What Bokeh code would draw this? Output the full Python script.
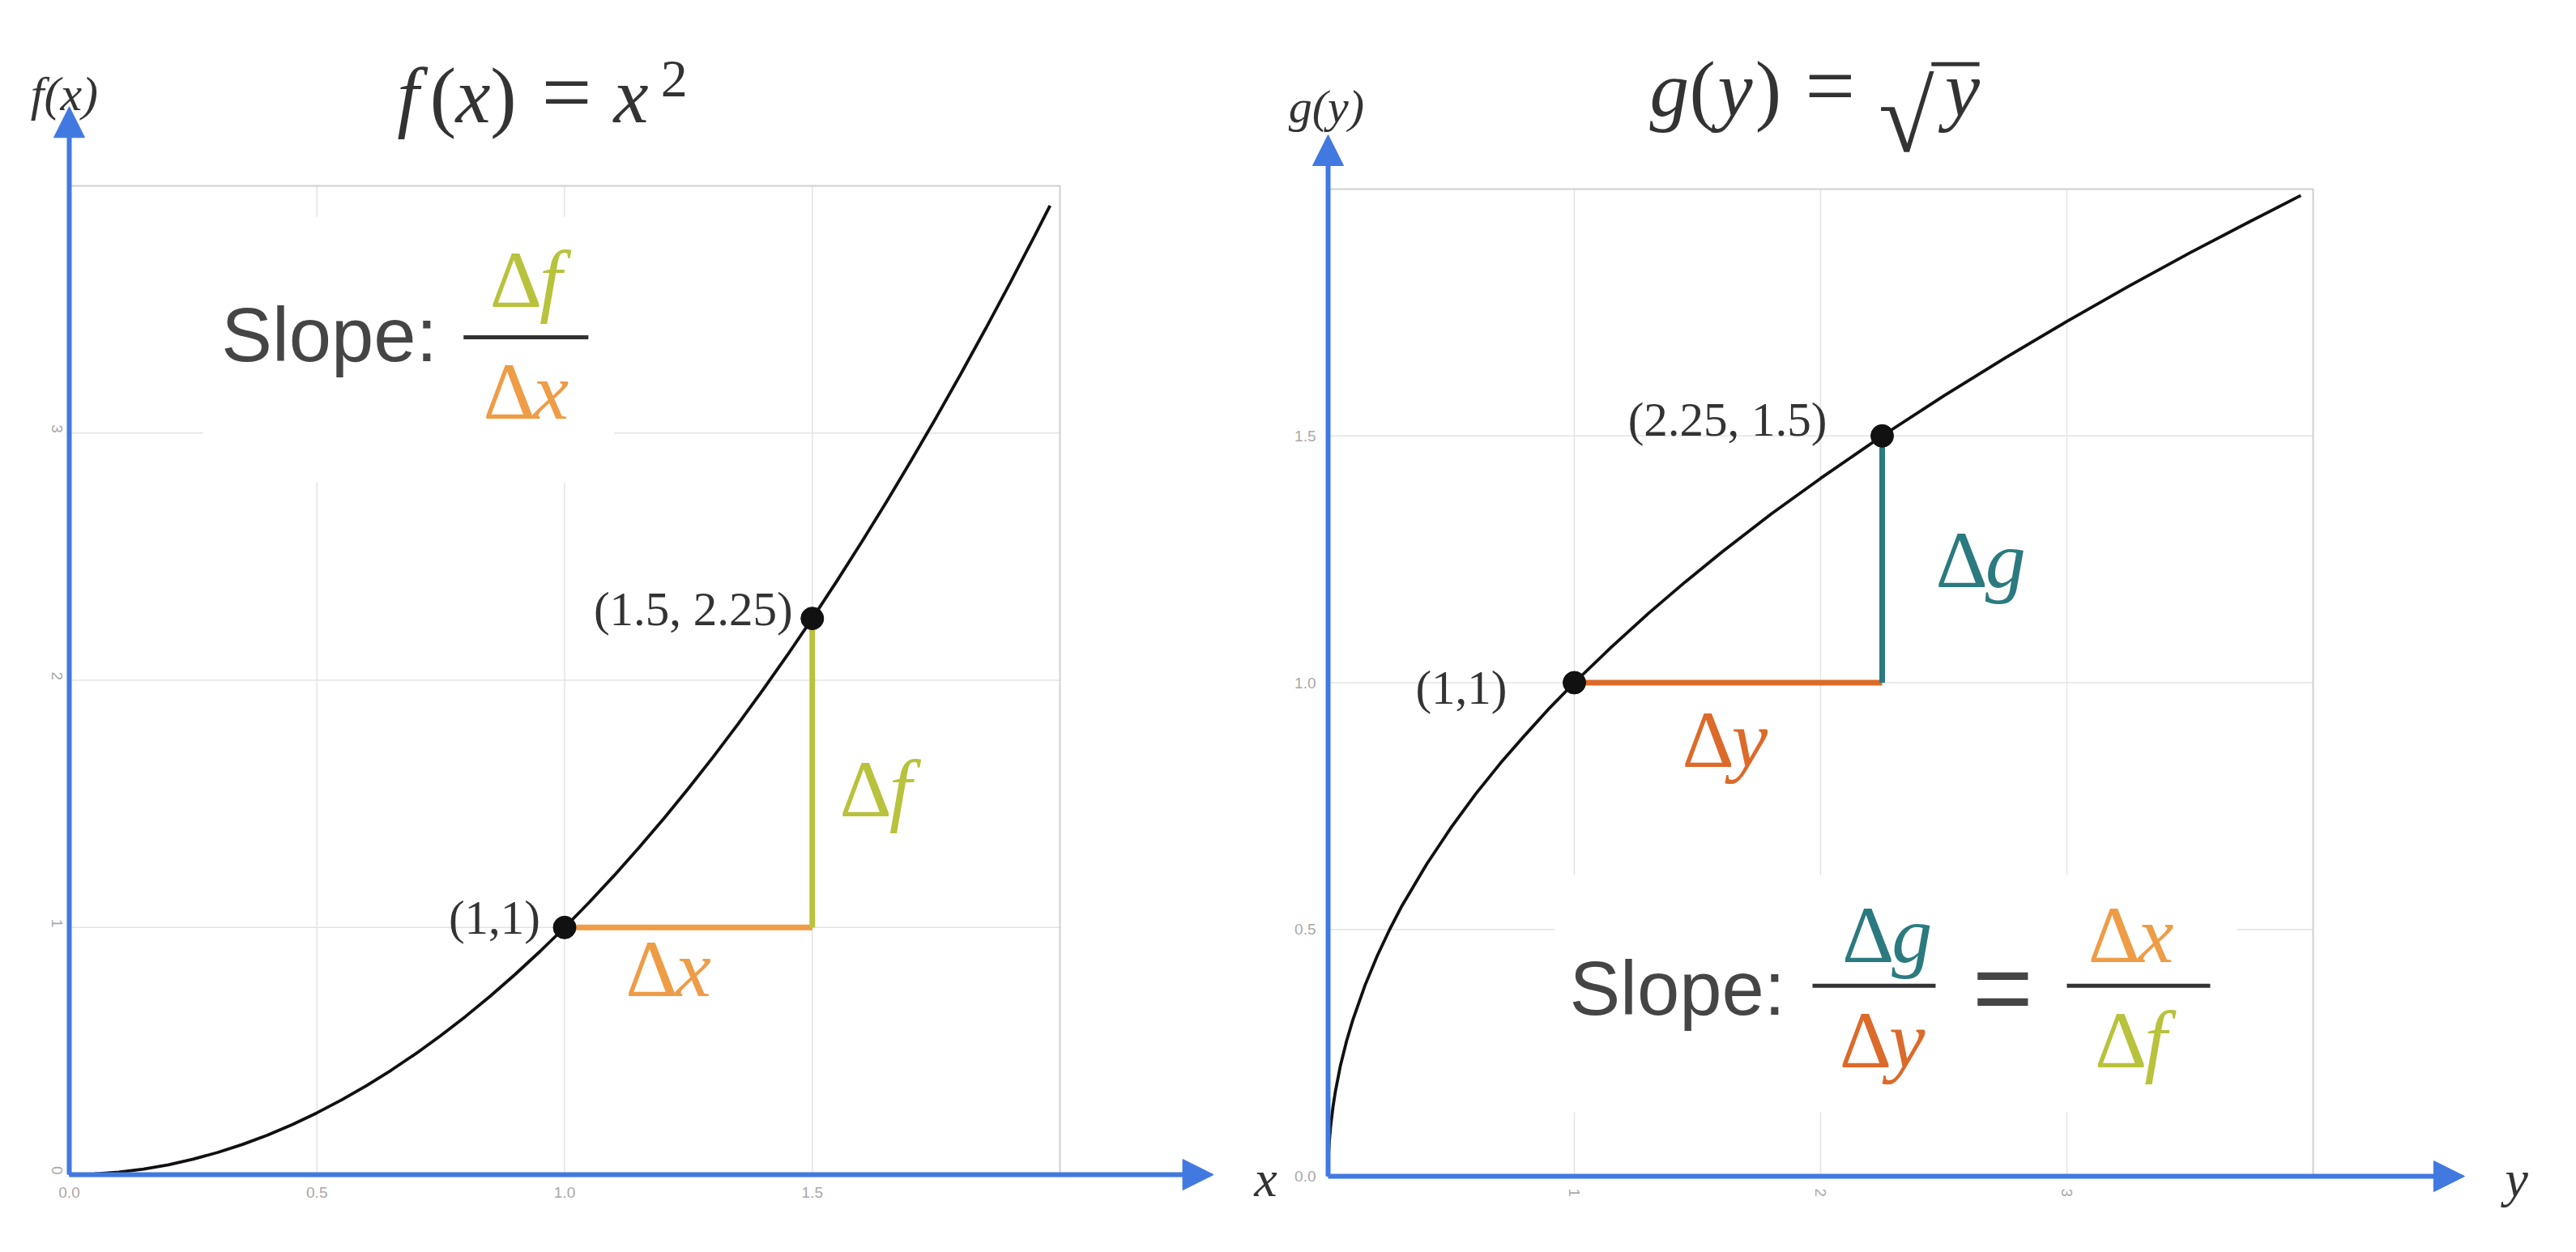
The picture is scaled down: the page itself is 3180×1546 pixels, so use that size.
import math
from bokeh.plotting import figure
from bokeh.layouts import row
from bokeh.models import Label, Arrow, NormalHead, FixedTicker, PrintfTickFormatter
from bokeh.embed import file_html
from bokeh.resources import INLINE

# ---------------- data ----------------
f_curve_x = [0.0, 0.05, 0.1, 0.15, 0.2, 0.25, 0.3, 0.35, 0.4, 0.45, 0.5, 0.55, 0.6,
             0.65, 0.7, 0.75, 0.8, 0.85, 0.9, 0.95, 1.0, 1.05, 1.1, 1.15, 1.2, 1.25,
             1.3, 1.35, 1.4, 1.45, 1.5, 1.55, 1.6, 1.65, 1.7, 1.75, 1.8, 1.85, 1.9,
             1.95, 1.98]
f_curve_y = [0.0, 0.0025, 0.01, 0.0225, 0.04, 0.0625, 0.09, 0.1225, 0.16, 0.2025,
             0.25, 0.3025, 0.36, 0.4225, 0.49, 0.5625, 0.64, 0.7225, 0.81, 0.9025,
             1.0, 1.1025, 1.21, 1.3225, 1.44, 1.5625, 1.69, 1.8225, 1.96, 2.1025,
             2.25, 2.4025, 2.56, 2.7225, 2.89, 3.0625, 3.24, 3.4225, 3.61, 3.8025,
             3.9204]
f_pts_x = [1.0, 1.5]
f_pts_y = [1.0, 2.25]
f_pt_labels = ["(1,1)", "(1.5, 2.25)"]
f_xticks = [0, 0.5, 1, 1.5]
f_yticks = [0, 1, 2, 3]
f_xmax, f_ymax = 2.0, 4.0

g_curve_x = [0.0, 0.001, 0.003, 0.006, 0.01, 0.02, 0.03, 0.05, 0.075, 0.1, 0.15, 0.2,
             0.25, 0.3, 0.4, 0.5, 0.6, 0.7, 0.8, 0.9, 1.0, 1.15, 1.3, 1.45, 1.6, 1.8,
             2.0, 2.25, 2.5, 2.75, 3.0, 3.25, 3.5, 3.75, 3.95]
g_curve_y = [0.0, 0.032, 0.055, 0.077, 0.1, 0.141, 0.173, 0.224, 0.274, 0.316, 0.387,
             0.447, 0.5, 0.548, 0.632, 0.707, 0.775, 0.837, 0.894, 0.949, 1.0, 1.072,
             1.14, 1.204, 1.265, 1.342, 1.414, 1.5, 1.581, 1.658, 1.732, 1.803, 1.871,
             1.936, 1.987]
g_pts_x = [1.0, 2.25]
g_pts_y = [1.0, 1.5]
g_pt_labels = ["(1,1)", "(2.25, 1.5)"]
g_xticks = [1, 2, 3]
g_yticks = [0, 0.5, 1, 1.5]
g_xmax, g_ymax = 4.0, 2.0

# ---------------- styles ----------------
BLUE = "#4179E0"
INK = "#333333"
SLOPE_INK = "#454545"
ORANGE = "#EE9C46"
LIME = "#B8C23C"
RUST = "#DC6A2A"
TEAL = "#2B7A80"
SERIF = "Liberation Serif"
SANS = "Liberation Sans"
LW = {"f": 0.278, "x": 0.444, "g": 0.5, "y": 0.444}
FIG_W, FIG_H = 1582, 1530
DSIZE = 100


class Panel:
    def __init__(self, x0px, y0px, ppx, ppy, xticks, yticks, xmax, ymax):
        # x0px / y0px: position of the data origin inside the figure (px)
        self.ppx, self.ppy = ppx, ppy
        xr = (-x0px / ppx, (FIG_W - x0px) / ppx)
        yr = (-(FIG_H - y0px) / ppy, y0px / ppy)
        p = figure(x_range=xr, y_range=yr, frame_width=FIG_W, frame_height=FIG_H,
                   min_border=0, output_backend="svg", toolbar_location=None,
                   tools="")
        p.outline_line_color = None
        p.background_fill_color = "white"
        p.border_fill_color = "white"
        p.grid.visible = False
        p.xaxis.ticker = FixedTicker(ticks=xticks)
        p.yaxis.ticker = FixedTicker(ticks=yticks)
        p.xaxis.fixed_location = 0
        p.yaxis.fixed_location = 0
        for ax in (p.xaxis[0], p.yaxis[0]):
            ax.axis_line_color = None
            ax.major_tick_line_color = None
            ax.minor_tick_line_color = None
            ax.major_label_text_font = SANS
            ax.major_label_text_font_size = "19px"
            ax.major_label_text_color = "#a8a8a8"
            ax.major_label_standoff = 9
        # grid lines from the ticks, limited to the plotting box
        gx = [t for t in xticks if t > 0]
        gy = [t for t in yticks if t > 0]
        p.segment(x0=gx, y0=[0] * len(gx), x1=gx, y1=[ymax] * len(gx),
                  line_color="#e4e4e4", line_width=1.5)
        p.segment(x0=[0] * len(gy), y0=gy, x1=[xmax] * len(gy), y1=gy,
                  line_color="#e4e4e4", line_width=1.5)
        p.quad(left=[0], right=[xmax], bottom=[0], top=[ymax], fill_color=None,
               line_color="#d0d0d0", line_width=2)
        self.p = p

    def lab(self, x, y, text, size, color=INK, font=SERIF, style="normal",
            align="left", baseline="alphabetic"):
        if baseline == "alphabetic":
            y = y + 0.33 * size / self.ppy
        self.p.add_layout(Label(x=x, y=y, text=text, text_font=font,
                                text_font_size=f"{size}px", text_font_style=style,
                                text_color=color, text_align=align,
                                text_baseline=baseline))

    def delta(self, x, y, letter, color, size=DSIZE, center=False):
        dw = 0.613 * size / self.ppx
        lw = LW[letter] * size / self.ppx
        if center:
            x = x - (dw + lw) / 2
        self.lab(x, y, "Δ", size, color)
        self.lab(x + dw, y, letter, size, color, style="italic")

    def axis_arrow(self, x1, y1):
        self.p.add_layout(Arrow(end=NormalHead(size=38, fill_color=BLUE,
                                               line_color=BLUE),
                                x_start=0, y_start=0, x_end=x1, y_end=y1,
                                line_color=BLUE, line_width=6))


# ================= left panel: f(x) = x^2 =================
L = Panel(85, 1450, 611.5, 305.25, f_xticks, f_yticks, f_xmax, f_ymax)
pf = L.p
pf.xaxis.formatter = PrintfTickFormatter(format="%.1f")
pf.yaxis.major_label_orientation = -math.pi / 2
fx, fy = L.ppx, L.ppy

pf.quad(left=0.27, right=1.10, bottom=2.80, top=3.875, fill_color="white",
        line_color=None)
L.lab(0.307, 3.296, "Slope:", 94, SLOPE_INK, font=SANS)
pf.segment(x0=0.796, y0=3.387, x1=1.048, y1=3.387, line_color=INK, line_width=5)
L.delta(0.922, 3.387 + 38 / fy, "f", LIME, center=True)
L.delta(0.922, 3.387 - 100 / fy, "x", ORANGE, center=True)

pf.line(f_curve_x, f_curve_y, line_color="#111111", line_width=3.8)
pf.segment(x0=[f_pts_x[0]], y0=[f_pts_y[0]], x1=[f_pts_x[1]], y1=[f_pts_y[0]],
           line_color=ORANGE, line_width=7)
pf.segment(x0=[f_pts_x[1]], y0=[f_pts_y[0]], x1=[f_pts_x[1]], y1=[f_pts_y[1]],
           line_color=LIME, line_width=7)
pf.scatter(f_pts_x, f_pts_y, size=28, color="#111111")

L.lab(f_pts_x[0] - 30 / fx, f_pts_y[0] + 12 / fy, f_pt_labels[0], 59,
      align="right", baseline="middle")
L.lab(f_pts_x[1] - 24 / fx, f_pts_y[1] + 12 / fy, f_pt_labels[1], 59,
      align="right", baseline="middle")
L.delta(1.555, 1.45, "f", LIME)
L.delta(1.123, 0.725, "x", ORANGE)

tb = 4.259
L.lab(0.662, tb, "f", 97, style="italic")
L.lab(0.728, tb, "(", 97)
L.lab(0.780, tb, "x", 97, style="italic")
L.lab(0.850, tb, ")", 97)
L.lab(1.004, tb, "=", 110, align="center")
L.lab(1.099, tb, "x", 97, style="italic")
L.lab(1.194, 4.361, "2", 66)

L.axis_arrow(0, 4.32)
L.axis_arrow(2.31, 0)
L.lab(-0.01, 4.308, "f(x)", 60, style="italic", align="center")
L.lab(2.392, -0.085, "x", 64, style="italic")

# ================= right panel: g(y) = sqrt(y) =================
R = Panel(57, 1452, 304.0, 609.5, g_xticks, g_yticks, g_xmax, g_ymax)
pg = R.p
pg.yaxis.formatter = PrintfTickFormatter(format="%.1f")
pg.xaxis.major_label_orientation = -math.pi / 2
gx, gy = R.ppx, R.ppy

pg.quad(left=0.92, right=3.69, bottom=0.13, top=0.61, fill_color="white",
        line_color=None)
R.lab(0.98, 0.330, "Slope:", 94, SLOPE_INK, font=SANS)
bar_y = 0.386
pg.segment(x0=1.967, y0=bar_y, x1=2.467, y1=bar_y, line_color=INK, line_width=5)
R.delta(2.27, bar_y + 30 / gy, "g", TEAL, center=True)
R.delta(2.25, bar_y - 100 / gy, "y", RUST, center=True)
R.lab(2.74, bar_y - 0.345 * 128 / gy, "=", 128, SLOPE_INK, font=SANS,
      align="center")
pg.segment(x0=3.0, y0=bar_y, x1=3.582, y1=bar_y, line_color=INK, line_width=5)
R.delta(3.26, bar_y + 30 / gy, "x", ORANGE, center=True)
R.delta(3.26, bar_y - 100 / gy, "f", LIME, center=True)

pg.line(g_curve_x, g_curve_y, line_color="#111111", line_width=3.8)
pg.segment(x0=[g_pts_x[0]], y0=[g_pts_y[0]], x1=[g_pts_x[1]], y1=[g_pts_y[0]],
           line_color=RUST, line_width=7)
pg.segment(x0=[g_pts_x[1]], y0=[g_pts_y[0]], x1=[g_pts_x[1]], y1=[g_pts_y[1]],
           line_color=TEAL, line_width=7)
pg.scatter(g_pts_x, g_pts_y, size=28, color="#111111")

R.lab(g_pts_x[0] - 83 / gx, g_pts_y[0] - 6 / gy, g_pt_labels[0], 59,
      align="right", baseline="middle")
R.lab(g_pts_x[1] - 68 / gx, g_pts_y[1] + 20 / gy, g_pt_labels[1], 59,
      align="right", baseline="middle")
R.delta(2.467, 1.195, "g", TEAL)
R.delta(1.4375, 0.83, "y", RUST)

tb = 2.149
R.lab(1.306, tb, "g", 97, style="italic")
R.lab(1.467, tb, "(", 97)
R.lab(1.582, tb, "y", 97, style="italic")
R.lab(1.734, tb, ")", 97)
R.lab(2.039, tb, "=", 110, align="center")
R.lab(2.235, tb - 44 / gy, "√", 125)
R.lab(2.505, tb, "y", 97, style="italic")
pg.add_layout(Arrow(start=None, end=None, x_start=2.45, y_start=2.253,
                    x_end=2.645, y_end=2.253, line_color=INK, line_width=5))

R.axis_arrow(0, 2.11)
R.axis_arrow(4.615, 0)
R.lab(-0.007, 2.136, "g(y)", 58, style="italic", align="center")
R.lab(4.78, -0.039, "y", 64, style="italic")

layout = row(pf, pg)
open("out.html", "w").write(file_html(layout, INLINE))
